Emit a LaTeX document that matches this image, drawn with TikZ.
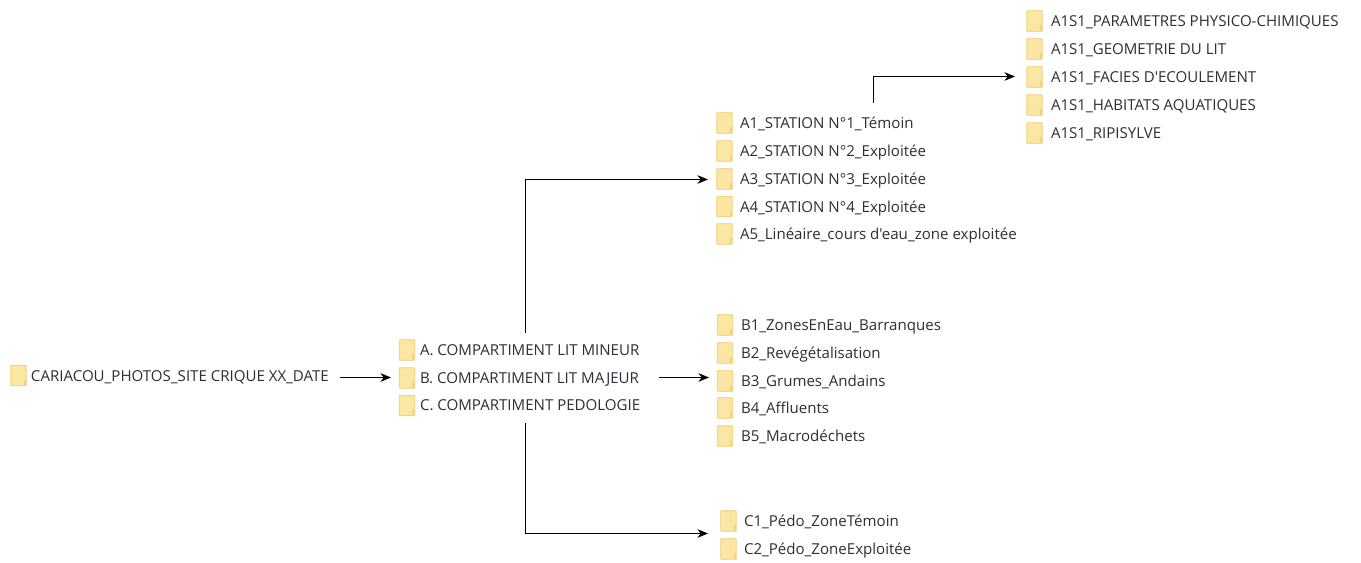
\documentclass[tikz,border=0pt]{standalone}
\usepackage{fontspec}
\newfontfamily\labelfont{Open Sans}
\usetikzlibrary{arrows.meta,positioning}
\definecolor{folderfill}{HTML}{FCE6A4}
\definecolor{folderedge}{HTML}{F0CD74}
\definecolor{foldertab}{HTML}{F6D27C}
\definecolor{labelink}{HTML}{2E2E38}
\tikzset{
  x=0.75pt,y=-0.75pt,
  panel/.style={inner sep=0pt,outer sep=0pt,fill=white,draw=none},
  folder/.style={rectangle,inner sep=0pt,outer sep=0pt,minimum width=11.6pt,minimum height=15.4pt,
    fill=folderfill,draw=folderedge,line width=0.6pt,rounded corners=0.6pt},
  lbl/.style={anchor=west,inner sep=0pt,outer sep=0pt,text=labelink,font=\labelfont\fontsize{11.3pt}{13pt}\selectfont,text depth=0pt},
  conn/.style={draw=black,line width=0.75pt,-{Stealth[length=8pt,width=6.5pt]}}
}
\newcommand{\folderrow}[4]{% name, folder x, text x, y
  \node[folder] (#1f) at (#2,#4) {};
  \fill[foldertab] ([xshift=-2pt,yshift=4.5pt]#1f.south east) rectangle ([xshift=-0.3pt,yshift=0.3pt]#1f.south east);
}
\newcommand{\rowlabel}[4]{\node[lbl] (#1) at (#2,#3) {#4};}
\begin{document}
\begin{tikzpicture}
\useasboundingbox[fill=white] (0,0) rectangle (1361,563);
% panels
\node[panel,minimum width=251.25pt,minimum height=27pt] (prootp) at (172.5,377.5) {};
\node[panel,minimum width=201pt,minimum height=67.5pt] (pcomp) at (525,377.5) {};
\node[panel,minimum width=247.5pt,minimum height=114pt] (pa) at (873,179.5) {};
\node[panel,minimum width=192pt,minimum height=118.5pt] (pb) at (837,381) {};
\node[panel,minimum width=165pt,minimum height=45pt] (pc) at (818,533.5) {};
\node[panel,minimum width=251.25pt,minimum height=106.5pt] (ps) at (1182.5,76.5) {};
% root
\folderrow{root}{18.5}{31}{375.5}
\rowlabel{rootl}{31}{376}{CARIACOU\_PHOTOS\_SITE CRIQUE XX\_DATE}
% compartments
\folderrow{ca}{407}{420}{350}
\rowlabel{cal}{420}{350}{A. COMPARTIMENT LIT MINEUR}
\folderrow{cb}{407}{420}{378}
\rowlabel{cbl}{420}{378}{B. COMPARTIMENT LIT MAJEUR}
\folderrow{cc}{407}{420}{405.5}
\rowlabel{ccl}{420}{405.5}{C. COMPARTIMENT PEDOLOGIE}
% A
\folderrow{aa}{724.5}{740}{123}
\rowlabel{aal}{740}{123}{A1\_STATION N°1\_Témoin}
\folderrow{ab}{724.5}{740}{151}
\rowlabel{abl}{740}{151}{A2\_STATION N°2\_Exploitée}
\folderrow{ac}{724.5}{740}{179}
\rowlabel{acl}{740}{179}{A3\_STATION N°3\_Exploitée}
\folderrow{ad}{724.5}{740}{206.5}
\rowlabel{adl}{740}{206.5}{A4\_STATION N°4\_Exploitée}
\folderrow{ae}{724.5}{740}{234}
\rowlabel{ael}{740}{234}{A5\_Linéaire\_cours d'eau\_zone exploitée}
% B
\folderrow{ba}{725}{741}{325}
\rowlabel{bal}{741}{325}{B1\_ZonesEnEau\_Barranques}
\folderrow{bb}{725}{741}{353}
\rowlabel{bbl}{741}{353}{B2\_Revégétalisation}
\folderrow{bc}{725}{741}{381}
\rowlabel{bcl}{741}{381}{B3\_Grumes\_Andains}
\folderrow{bd}{725}{741}{408}
\rowlabel{bdl}{741}{408}{B4\_Affluents}
\folderrow{be}{725}{741}{436}
\rowlabel{bel}{741}{436}{B5\_Macrodéchets}
% C
\folderrow{ea}{728.5}{744}{521}
\rowlabel{eal}{744}{521}{C1\_Pédo\_ZoneTémoin}
\folderrow{eb}{728.5}{744}{549}
\rowlabel{ebl}{744}{549}{C2\_Pédo\_ZoneExploitée}
% A1S1
\folderrow{sa}{1034.5}{1051}{21}
\rowlabel{sal}{1051}{21}{A1S1\_PARAMETRES PHYSICO-CHIMIQUES}
\folderrow{sb}{1034.5}{1051}{49}
\rowlabel{sbl}{1051}{49}{A1S1\_GEOMETRIE DU LIT}
\folderrow{sc}{1034.5}{1051}{77}
\rowlabel{scl}{1051}{77}{A1S1\_FACIES D'ECOULEMENT}
\folderrow{sd}{1034.5}{1051}{105}
\rowlabel{sdl}{1051}{105}{A1S1\_HABITATS AQUATIQUES}
\folderrow{se}{1034.5}{1051}{133}
\rowlabel{sel}{1051}{133}{A1S1\_RIPISYLVE}
% connectors
\draw[conn] (prootp.east) -- (pcomp.west);
\draw[conn] (pcomp.east) -- (pcomp.east -| pb.west);
\draw[conn] (pcomp.north) |- (pa.west);
\draw[conn] (pcomp.south) |- (pc.west);
\draw[conn] (pa.north) |- (ps.west);
\end{tikzpicture}
\end{document}
